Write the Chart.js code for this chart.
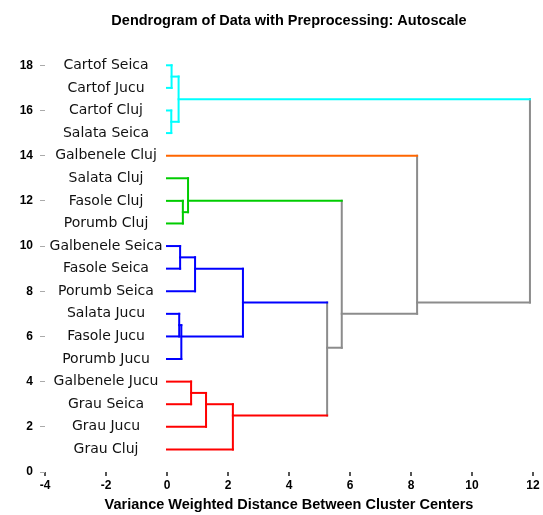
<!DOCTYPE html>
<html>
<head>
<meta charset="utf-8">
<script src="https://cdn.jsdelivr.net/npm/chart.js@4.4.1/dist/chart.umd.min.js"></script>
<style>
  html, body { margin: 0; padding: 0; background: #fff; }
</style>
</head>
<body>
<canvas id="chart" width="543" height="515"></canvas>
<script>
// leaves, top to bottom of the dendrogram
const leafLabels = [
  'Cartof Seica', 'Cartof Jucu', 'Cartof Cluj', 'Salata Seica',
  'Galbenele Cluj',
  'Salata Cluj', 'Fasole Cluj', 'Porumb Cluj',
  'Galbenele Seica', 'Fasole Seica', 'Porumb Seica',
  'Salata Jucu', 'Fasole Jucu', 'Porumb Jucu',
  'Galbenele Jucu', 'Grau Seica', 'Grau Jucu', 'Grau Cluj'
];
// cluster of each leaf: 0 cyan, 1 orange, 2 green, 3 blue, 4 red
const leafCluster = [0, 0, 0, 0, 1, 2, 2, 2, 3, 3, 3, 3, 3, 3, 4, 4, 4, 4];

// merges (node ids go on after the 18 leaves: 18, 19, ...)
const mergeLeft   = [0, 2, 18, 6, 5, 8, 23, 11, 25, 24, 14, 28, 29, 27, 22, 4, 20];
const mergeRight  = [1, 3, 19, 7, 21, 9, 10, 12, 13, 26, 15, 16, 17, 30, 31, 32, 33];
const mergeHeight = [0.15, 0.14, 0.38, 0.52, 0.69, 0.43, 0.92, 0.40, 0.47, 2.49,
                     0.79, 1.28, 2.16, 5.25, 5.73, 8.2, 11.9];
// -1 = above the cut (grey)
const mergeCluster = [0, 0, 0, 2, 2, 3, 3, 3, 3, 3, 4, 4, 4, -1, -1, -1, -1];

const xTicks = [-4, -2, 0, 2, 4, 6, 8, 10, 12];
const yTicks = [0, 2, 4, 6, 8, 10, 12, 14, 16, 18];

const palette = ['#00ffff', '#ff6600', '#00cc00', '#0000ff', '#ff0000'];
const grey = '#8c8c8c';
const labelX = -2;

// node positions: leaf y = 18..1, merged node y = mean of its leaves
const nLeaf = leafLabels.length;
const nodeY = [], nodeH = [], nodeN = [], nodeColor = [];
leafLabels.forEach((_, i) => {
  nodeY.push(nLeaf - i);
  nodeH.push(0);
  nodeN.push(1);
  nodeColor.push(palette[leafCluster[i]]);
});
mergeLeft.forEach((l, k) => {
  const r = mergeRight[k];
  const n = nodeN[l] + nodeN[r];
  nodeY.push((nodeY[l] * nodeN[l] + nodeY[r] * nodeN[r]) / n);
  nodeN.push(n);
  nodeH.push(mergeHeight[k]);
  nodeColor.push(mergeCluster[k] < 0 ? grey : palette[mergeCluster[k]]);
});

function seg(points, color) {
  return {
    data: points,
    showLine: true,
    borderColor: color,
    borderWidth: 2,
    borderCapStyle: 'square',
    pointRadius: 0,
    pointHoverRadius: 0,
    tension: 0
  };
}

const datasets = [];
mergeLeft.forEach((l, k) => {
  const r = mergeRight[k];
  const id = nLeaf + k;
  const h = mergeHeight[k];
  datasets.push(seg([{x: nodeH[l], y: nodeY[l]}, {x: h, y: nodeY[l]}], nodeColor[l]));
  datasets.push(seg([{x: nodeH[r], y: nodeY[r]}, {x: h, y: nodeY[r]}], nodeColor[r]));
  datasets.push(seg([{x: h, y: nodeY[l]}, {x: h, y: nodeY[r]}], nodeColor[id]));
});

const leafLabelPlugin = {
  id: 'leafLabels',
  afterDatasetsDraw(chart) {
    const {ctx, scales: {x, y}} = chart;
    ctx.save();
    ctx.font = '14px "DejaVu Sans"';
    ctx.fillStyle = '#111';
    ctx.textAlign = 'center';
    ctx.textBaseline = 'middle';
    leafLabels.forEach((lab, i) => {
      ctx.fillText(lab, x.getPixelForValue(labelX), y.getPixelForValue(nodeY[i]));
    });
    ctx.restore();
  }
};

const boldFont = { family: '"Liberation Sans", Arial, sans-serif', size: 12, weight: 'bold' };
const titleFont = { family: '"Liberation Sans", Arial, sans-serif', size: 14.5, weight: 'bold' };

new Chart(document.getElementById('chart'), {
  type: 'scatter',
  data: { datasets },
  plugins: [leafLabelPlugin],
  options: {
    responsive: false,
    devicePixelRatio: 1,
    animation: false,
    events: [],
    layout: { padding: { left: 0, right: 10, top: 0, bottom: 0 } },
    plugins: {
      legend: { display: false },
      tooltip: { enabled: false },
      title: {
        display: true,
        fullSize: false,
        text: 'Dendrogram of Data with Preprocessing: Autoscale',
        color: '#000',
        font: titleFont,
        padding: { top: 12, bottom: 24.6 }
      }
    },
    scales: {
      x: {
        type: 'linear',
        min: -4,
        max: 12,
        afterBuildTicks: s => { s.ticks = xTicks.map(v => ({ value: v })); },
        afterFit: s => { s.height = 43; },
        border: { display: false },
        grid: { drawOnChartArea: false, drawTicks: true, tickLength: 4, tickColor: '#555', lineWidth: 2 },
        ticks: { color: '#000', font: boldFont, padding: 2, maxRotation: 0 },
        title: {
          display: true,
          text: 'Variance Weighted Distance Between Cluster Centers',
          color: '#000',
          font: titleFont,
          padding: { top: 0, bottom: 1 }
        }
      },
      y: {
        type: 'linear',
        min: 0,
        max: 18.5,
        afterBuildTicks: s => { s.ticks = yTicks.map(v => ({ value: v })); },
        afterFit: s => { s.width = 45; },
        border: { display: false },
        grid: { drawOnChartArea: false, drawTicks: true, tickLength: 5, tickColor: '#aaa' },
        ticks: { color: '#000', font: boldFont, padding: 7 }
      }
    }
  }
});
</script>
</body>
</html>
